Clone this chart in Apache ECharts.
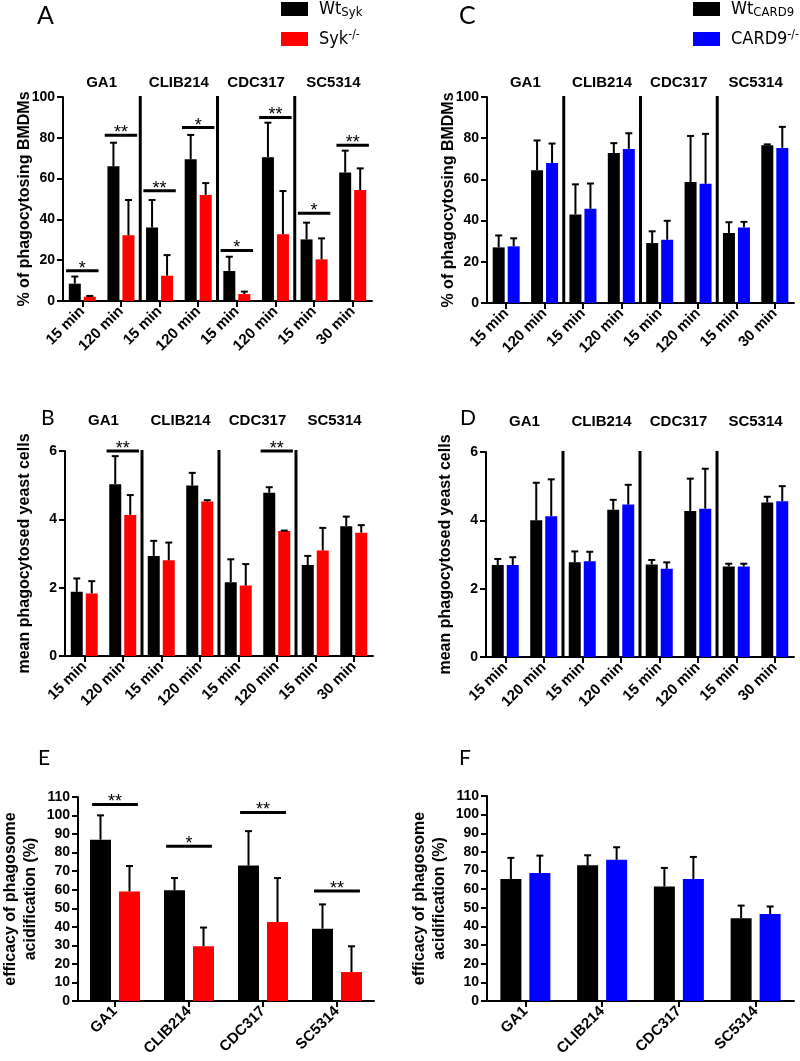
<!DOCTYPE html>
<html><head><meta charset="utf-8">
<script src="https://cdn.jsdelivr.net/npm/echarts@6/dist/echarts.min.js"></script>
<style>html,body{margin:0;padding:0;background:#fff}#c{width:800px;height:1061px}</style>
</head><body><div id="c"></div>
<script>
// ---------- data ----------
const timeCats = ['15 min','120 min','15 min','120 min','15 min','120 min','15 min','30 min'];
const strainCats = ['GA1','CLIB214','CDC317','SC5314'];
const groupBoundaries = [1, 3, 5];

// A: % of phagocytosing BMDMs (Syk)
const aWtMean = [8.5, 66, 36, 69.5, 14.7, 70.5, 30.2, 63];
const aWtSd   = [3.5, 11.6, 13.5, 11.9, 7, 16.9, 8.2, 10.7];
const aKoMean = [2.1, 32.2, 12.4, 52, 3.4, 32.7, 20.4, 54.4];
const aKoSd   = [0.4, 17.3, 10.1, 5.8, 1.2, 21.2, 10.3, 10.6];
const aSig    = [[0,14.8,1],[1,81.2,2],[2,54,2],[3,85,1],[4,24.8,1],[5,90,2],[6,43,1],[7,76.3,2]];

// C: % of phagocytosing BMDMs (CARD9)
const cWtMean = [27, 64.5, 43, 72.8, 29.1, 58.7, 34, 76.6];
const cWtSd   = [5.8, 14.4, 14.6, 4.8, 5.7, 22.4, 5.2, 0.4];
const cKoMean = [27.5, 68, 45.7, 74.8, 30.7, 57.9, 36.7, 75.3];
const cKoSd   = [3.9, 9.4, 12.3, 7.6, 9.2, 24.2, 2.7, 10.2];

// B: mean phagocytosed yeast cells (Syk)
const bWtMean = [1.88, 5.03, 2.93, 4.99, 2.16, 4.78, 2.66, 3.8];
const bWtSd   = [0.39, 0.82, 0.44, 0.37, 0.67, 0.16, 0.27, 0.28];
const bKoMean = [1.83, 4.13, 2.8, 4.52, 2.06, 3.66, 3.09, 3.61];
const bKoSd   = [0.36, 0.58, 0.52, 0.04, 0.63, 0.01, 0.66, 0.22];
const bSig    = [[1,6.0,2],[5,6.0,2]];

// D: mean phagocytosed yeast cells (CARD9)
const dWtMean = [2.69, 4.0, 2.77, 4.31, 2.71, 4.27, 2.65, 4.52];
const dWtSd   = [0.18, 1.1, 0.32, 0.29, 0.13, 0.95, 0.08, 0.17];
const dKoMean = [2.69, 4.12, 2.8, 4.46, 2.58, 4.34, 2.65, 4.56];
const dKoSd   = [0.23, 1.08, 0.28, 0.58, 0.19, 1.17, 0.08, 0.44];

// E: efficacy of phagosome acidification (Syk)
const eWtMean = [87, 59.7, 73, 39];
const eWtSd   = [13.1, 6.6, 18.6, 13.1];
const eKoMean = [59.1, 29.5, 42.6, 15.6];
const eKoSd   = [13.7, 10.1, 23.7, 13.9];
const eSig    = [[0,106,2],[1,83.4,1],[2,101.7,2],[3,59.3,2]];

// F: efficacy of phagosome acidification (CARD9)
const fWtMean = [65.4, 72.8, 61.5, 44.4];
const fWtSd   = [11.4, 5.4, 9.9, 6.8];
const fKoMean = [68.7, 75.8, 65.4, 46.7];
const fKoSd   = [9.3, 6.7, 11.9, 4.0];

const sykNames = ['Wt_Syk', 'Syk-/-'];
const cardNames = ['Wt_CARD9', 'CARD9-/-'];

// ---------- styling ----------
const FONT = '"Liberation Sans", Arial, sans-serif';
const RED = '#ff0000', BLUE = '#0000ff', BLACK = '#000000';

const grids = [
  {left: 63, top: 97, width: 309, height: 204},   // A
  {left: 487, top: 97, width: 307, height: 206},  // C
  {left: 65, top: 451, width: 308, height: 205},  // B
  {left: 486, top: 452, width: 308, height: 205}, // D
  {left: 66, top: 797, width: 308, height: 204},  // E
  {left: 487, top: 796, width: 307, height: 205}  // F
];

const xAxes = [], yAxes = [], series = [];

function yAxisDef(gi, max, interval, name, nameGap) {
  return {
    type: 'value', gridIndex: gi, min: 0, max: max, interval: interval,
    name: name, nameLocation: 'middle', nameGap: nameGap, nameMoveOverlap: false,
    nameTextStyle: {fontFamily: FONT, fontWeight: 'bold', fontSize: 16, color: BLACK, lineHeight: 20},
    axisLine: {show: true, lineStyle: {color: BLACK, width: 2}},
    axisTick: {show: true, length: 6, lineStyle: {color: BLACK, width: 2}},
    axisLabel: {fontFamily: FONT, fontWeight: 'bold', fontSize: 14, color: BLACK, margin: 8},
    splitLine: {show: false}
  };
}

function xAxisDef(gi, cats) {
  return {
    type: 'category', gridIndex: gi, data: cats, position: 'bottom',
    axisLine: {show: true, onZero: false, lineStyle: {color: BLACK, width: 2}},
    axisTick: {show: true, alignWithLabel: true, length: 6, lineStyle: {color: BLACK, width: 2}},
    axisLabel: {interval: 0, rotate: 45, fontFamily: FONT, fontWeight: 'bold', fontSize: 15, color: BLACK, margin: 8},
    splitLine: {show: false}
  };
}

function topAxisDef(gi, margin) {
  return {
    type: 'category', gridIndex: gi, data: strainCats, position: 'top',
    axisLine: {show: false}, axisTick: {show: false},
    axisLabel: {interval: 0, fontFamily: FONT, fontWeight: 'bold', fontSize: 15, color: BLACK, margin: margin},
    splitLine: {show: false}
  };
}

function addPanel(opt) {
  const gi = opt.grid;
  const xi = xAxes.length;
  xAxes.push(xAxisDef(gi, opt.cats));
  if (opt.topMargin != null) xAxes.push(topAxisDef(gi, opt.topMargin));
  const yi = yAxes.length;
  yAxes.push(yAxisDef(gi, opt.max, opt.interval, opt.yName, opt.nameGap));

  const barW = opt.barW, gapPx = opt.gapPx;
  const off = (barW + gapPx) / 2;
  series.push({
    type: 'bar', name: opt.names[0], xAxisIndex: xi, yAxisIndex: yi,
    data: opt.wtMean, barWidth: barW, barGap: (gapPx / barW * 100) + '%',
    itemStyle: {color: BLACK}, z: 3, animation: false
  });
  series.push({
    type: 'bar', name: opt.names[1], xAxisIndex: xi, yAxisIndex: yi,
    data: opt.koMean, barWidth: barW, barGap: (gapPx / barW * 100) + '%',
    itemStyle: {color: opt.koColor}, z: 3, animation: false
  });
  // error bars (upper only)
  const errData = [];
  opt.wtMean.forEach((m, k) => errData.push([k, m, m + opt.wtSd[k], -1]));
  opt.koMean.forEach((m, k) => errData.push([k, m, m + opt.koSd[k], 1]));
  series.push({
    type: 'custom', xAxisIndex: xi, yAxisIndex: yi, data: errData, z: 4, animation: false,
    encode: {x: 0, y: [1, 2]},
    renderItem: function (params, api) {
      const c = api.value(0);
      const p0 = api.coord([c, api.value(1)]);
      const p1 = api.coord([c, api.value(2)]);
      const x = p0[0] + api.value(3) * off;
      return {type: 'group', children: [
        {type: 'line', shape: {x1: x, y1: p0[1], x2: x, y2: p1[1]}, style: {stroke: BLACK, lineWidth: 2}},
        {type: 'line', shape: {x1: x - 3.5, y1: p1[1], x2: x + 3.5, y2: p1[1]}, style: {stroke: BLACK, lineWidth: 2}}
      ]};
    }
  });
  // significance bars
  if (opt.sig) {
    series.push({
      type: 'custom', xAxisIndex: xi, yAxisIndex: yi, data: opt.sig, z: 5, animation: false,
      encode: {x: 0, y: 1},
      renderItem: function (params, api) {
        const p = api.coord([api.value(0), api.value(1)]);
        const half = api.size([1, 0])[0] * opt.sigRatio / 2;
        const stars = '*'.repeat(api.value(2));
        return {type: 'group', children: [
          {type: 'line', shape: {x1: p[0] - half, y1: p[1], x2: p[0] + half, y2: p[1]}, style: {stroke: BLACK, lineWidth: 3}},
          {type: 'text', x: p[0], y: p[1] + 7, style: {text: stars, fill: BLACK, fontFamily: FONT, fontSize: 18, align: 'center', verticalAlign: 'bottom'}}
        ]};
      }
    });
  }
  // group separators
  if (opt.seps) {
    series.push({
      type: 'custom', xAxisIndex: xi, yAxisIndex: yi, data: opt.seps.map(b => [b, opt.max]), z: 5, animation: false,
      encode: {x: 0, y: 1},
      renderItem: function (params, api) {
        const b = api.value(0);
        const a1 = api.coord([b, api.value(1)]);
        const a2 = api.coord([b + 1, api.value(1)]);
        const a0 = api.coord([b, 0]);
        const x = (a1[0] + a2[0]) / 2;
        return {type: 'line', shape: {x1: x, y1: a1[1] - 1, x2: x, y2: a0[1]}, style: {stroke: BLACK, lineWidth: 3}};
      }
    });
  }
}

addPanel({grid: 0, cats: timeCats, topMargin: 7, max: 100, interval: 20, yName: '% of phagocytosing BMDMs', nameGap: 28,
  wtMean: aWtMean, wtSd: aWtSd, koMean: aKoMean, koSd: aKoSd, names: sykNames, koColor: RED,
  barW: 12, gapPx: 3, sig: aSig, sigRatio: 0.84, seps: groupBoundaries});
addPanel({grid: 1, cats: timeCats, topMargin: 7, max: 100, interval: 20, yName: '% of phagocytosing BMDMs', nameGap: 28,
  wtMean: cWtMean, wtSd: cWtSd, koMean: cKoMean, koSd: cKoSd, names: cardNames, koColor: BLUE,
  barW: 12, gapPx: 3, seps: groupBoundaries});
addPanel({grid: 2, cats: timeCats, topMargin: 23, max: 6, interval: 2, yName: 'mean phagocytosed yeast cells', nameGap: 30,
  wtMean: bWtMean, wtSd: bWtSd, koMean: bKoMean, koSd: bKoSd, names: sykNames, koColor: RED,
  barW: 12, gapPx: 3, sig: bSig, sigRatio: 0.84, seps: groupBoundaries});
addPanel({grid: 3, cats: timeCats, topMargin: 23, max: 6, interval: 2, yName: 'mean phagocytosed yeast cells', nameGap: 30,
  wtMean: dWtMean, wtSd: dWtSd, koMean: dKoMean, koSd: dKoSd, names: cardNames, koColor: BLUE,
  barW: 12, gapPx: 3, seps: groupBoundaries});
addPanel({grid: 4, cats: strainCats, max: 110, interval: 10, yName: 'efficacy of phagosome\nacidification (%)', nameGap: 37,
  wtMean: eWtMean, wtSd: eWtSd, koMean: eKoMean, koSd: eKoSd, names: sykNames, koColor: RED,
  barW: 21, gapPx: 8, sig: eSig, sigRatio: 0.62});
addPanel({grid: 5, cats: strainCats, max: 110, interval: 10, yName: 'efficacy of phagosome\nacidification (%)', nameGap: 37,
  wtMean: fWtMean, wtSd: fWtSd, koMean: fKoMean, koSd: fKoSd, names: cardNames, koColor: BLUE,
  barW: 21, gapPx: 8});

const LFONT = '"DejaVu Sans Condensed", "DejaVu Sans", sans-serif';
const PFONT = 'Lato, "Open Sans", sans-serif';
const legendRich = {
  m: {fontFamily: LFONT, fontSize: 18, color: BLACK, lineHeight: 20},
  s: {fontFamily: LFONT, fontSize: 13, color: BLACK, lineHeight: 20, verticalAlign: 'bottom'},
  p: {fontFamily: LFONT, fontSize: 12, color: BLACK, lineHeight: 20, verticalAlign: 'top'}
};
function legendFmt(name) {
  if (name.indexOf('Wt_') === 0) return '{m|Wt}{s|' + name.slice(3) + '}';
  return '{m|' + name.replace('-/-', '') + '}{p|-/-}';
}

function panelLetter(t, left, top, size) {
  return {text: t, left: left, top: top, padding: 0,
    textStyle: {fontFamily: PFONT, fontWeight: 'normal', fontSize: size, color: BLACK}};
}

const option = {
  backgroundColor: '#ffffff',
  animation: false,
  title: [
    panelLetter('A', 37, 3, 25), panelLetter('C', 459, 3, 25),
    panelLetter('B', 41, 408, 21), panelLetter('D', 460, 408, 21),
    panelLetter('E', 38, 748, 21), panelLetter('F', 459, 748, 21)
  ],
  legend: [
    {data: sykNames, left: 276, top: -5, orient: 'vertical', itemGap: 10, itemWidth: 27, itemHeight: 14,
      icon: 'rect', selectedMode: false, formatter: legendFmt, textStyle: {rich: legendRich, padding: [0, 0, 0, 6]}},
    {data: cardNames, left: 688, top: -5, orient: 'vertical', itemGap: 10, itemWidth: 27, itemHeight: 14,
      icon: 'rect', selectedMode: false, formatter: legendFmt, textStyle: {rich: legendRich, padding: [0, 0, 0, 6]}}
  ],
  grid: grids,
  xAxis: xAxes,
  yAxis: yAxes,
  series: series
};

const chart = echarts.init(document.getElementById('c'), null, {renderer: 'canvas'});
chart.setOption(option);
</script>
</body></html>
